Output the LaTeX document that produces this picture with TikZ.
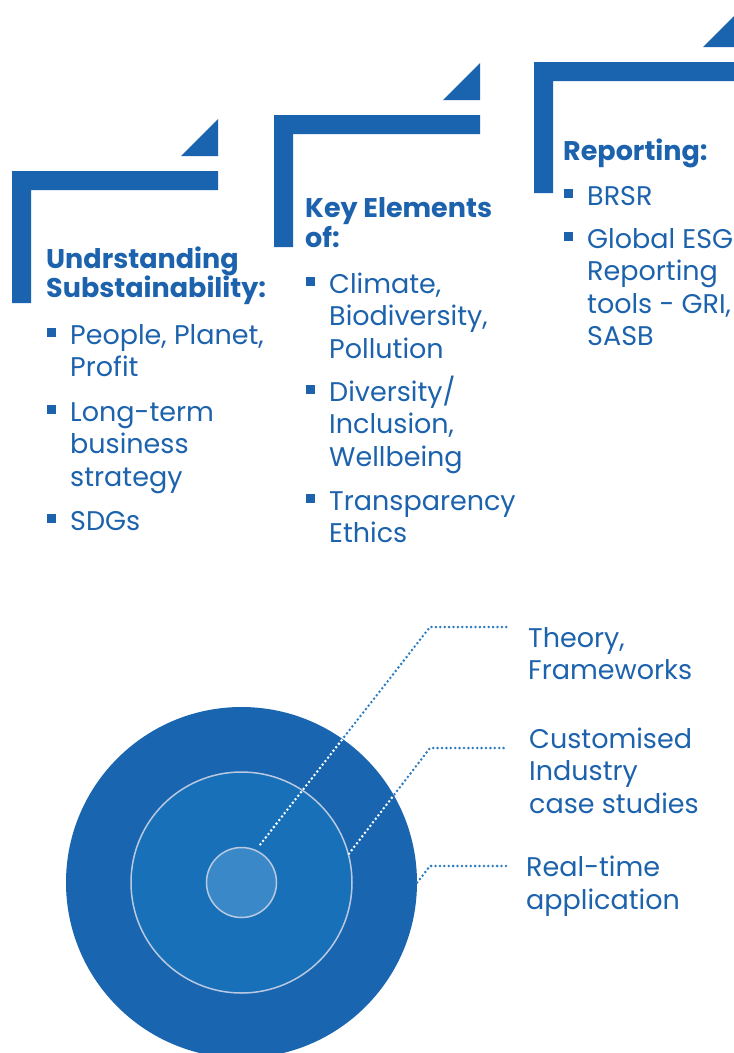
\documentclass[tikz,border=0pt]{standalone}
\usepackage{fontspec}
\setmainfont{Poppins}
\definecolor{barblue}{HTML}{1A63AF}
\definecolor{inkblue}{HTML}{1C62AC}
\definecolor{outerblue}{HTML}{1A65B0}
\definecolor{midblue}{HTML}{1770B8}
\definecolor{coreblue}{HTML}{3A88C7}
\definecolor{ringline}{HTML}{B9C9E2}
\definecolor{dotblue}{HTML}{2C7CC2}
\newcommand{\sqbullet}{\makebox[0pt][r]{\raisebox{7pt}{\rule{9.5pt}{9.5pt}}\hspace{14pt}}}

\begin{document}
\begin{tikzpicture}[
  x=1pt, y=-1pt,
  heading/.style={anchor=base west, inner sep=0pt, align=left, text=inkblue,
  font=\fontsize{27}{29.5}\selectfont\bfseries},
  item/.style={anchor=base west, inner sep=0pt, align=left, text=inkblue,
  font=\fontsize{27}{32.5}\selectfont},
  ring/.style={circle, inner sep=0pt, draw=ringline, line width=1.5pt},
  leader/.style={draw=dotblue, line width=2.8pt, line cap=round,
  dash pattern=on 0pt off 4.4pt}
]
\useasboundingbox (0,0) rectangle (734,1053);

\foreach \x/\y/\b in {12/171/303, 274/115/247, 534/62/193}{
  \fill[barblue] (\x,\b) -- (\x,\y) -- (\x+206,\y) -- (\x+206,\y+19)
    -- (\x+19,\y+19) -- (\x+19,\b) -- cycle;
  \fill[barblue] (\x+169,\y-15) -- (\x+206,\y-15) -- (\x+206,\y-52) -- cycle;
}

\node[heading] (understand) at (46,297.5) {Undrstanding\\Substainability:};
\node[item] (people) at (70,376.5) {\sqbullet People, Planet,\\Profit};
\node[item] (longterm) at (70,486) {\sqbullet Long-term\\business\\strategy};
\node[item] (sdgs) at (70,530) {\sqbullet SDGs};

\node[heading] (keyelements) at (305,247) {Key Elements\\of:};
\node[item] (climate) at (329,358) {\sqbullet Climate,\\Biodiversity,\\Pollution};
\node[item] (diversity) at (329,466) {\sqbullet Diversity/\\Inclusion,\\Wellbeing};
\node[item] (transparency) at (329,542.5) {\sqbullet Transparency\\Ethics};

\node[heading] (reporting) at (563,160) {Reporting:};
\node[item] (brsr) at (587,205) {\sqbullet BRSR};
\node[item] (globalesg) at (587,345.5) {\sqbullet Global ESG\\Reporting\\tools - GRI,\\SASB};

\node[circle, inner sep=0pt, minimum size=351pt, fill=outerblue] (outer) at (241.5,882.5) {};
\node[ring, minimum size=221pt, fill=midblue] (middle) at (outer.center) {};
\node[ring, minimum size=70pt, fill=coreblue] (core) at (outer.center) {};

\coordinate (bend1) at (430,627);
\coordinate (end1) at (507,627);
\coordinate (bend2) at (430,748);
\coordinate (end2) at (507,748);
\coordinate (bend3) at (430,866);
\coordinate (end3) at (507,866);

\draw[leader, shorten <=7pt] (core.66) -- (bend1) -- (end1);
\draw[leader] (middle.15) -- (bend2) -- (end2);
\draw[leader] (outer.east) -- (bend3) -- (end3);
\begin{scope}
  \clip (outer.center) circle[radius=175.5pt];
  \draw[leader, draw=white, shorten <=7pt] (core.66) -- (bend1) -- (end1);
  \draw[leader, draw=white] (middle.15) -- (bend2) -- (end2);
\end{scope}

\node[item] (theory) at (528,679.5) {Theory,\\Frameworks};
\node[item] (customised) at (529,813) {Customised\\Industry\\case studies};
\node[item] (realtime) at (526,909) {Real-time\\application};

\end{tikzpicture}
\end{document}
